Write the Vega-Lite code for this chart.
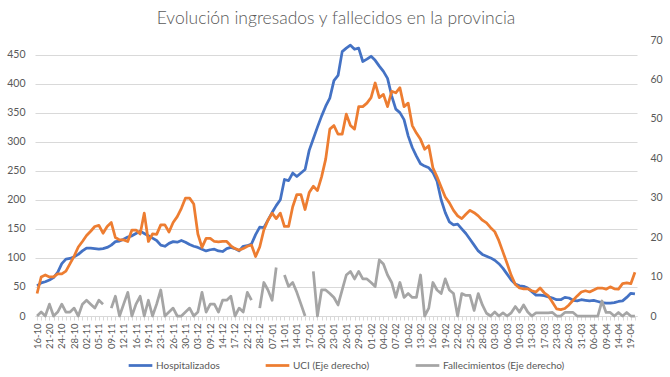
{
"$schema": "https://vega.github.io/schema/vega-lite/v6.json",
"width": 602, "height": 276,
"autosize": "none",
"padding": {"left": 35, "top": 40, "right": 33, "bottom": 61},
"background": "white",
"title": {"text": "Evolución ingresados y fallecidos en la provincia", "font": "Lato", "fontSize": 17.5, "fontWeight": 300, "color": "#595959", "offset": 8, "anchor": "middle"},
"data": {"values": [
{"fecha":"16-10","hosp":52,"uci":5.7,"fall":0},
{"fecha":"19-10","hosp":57,"uci":9.9,"fall":1},
{"fecha":"20-10","hosp":59,"uci":10.4,"fall":0},
{"fecha":"21-20","hosp":62,"uci":9.9,"fall":3},
{"fecha":"22-10","hosp":66,"uci":9.9,"fall":0},
{"fecha":"23-10","hosp":75,"uci":10.7,"fall":1},
{"fecha":"24-10","hosp":90,"uci":10.7,"fall":3},
{"fecha":"26-10","hosp":98,"uci":11.4,"fall":1},
{"fecha":"27-10","hosp":99,"uci":13.3,"fall":1},
{"fecha":"28-10","hosp":102,"uci":15.2,"fall":2},
{"fecha":"30-10","hosp":106,"uci":17.5,"fall":0},
{"fecha":"31-10","hosp":112,"uci":18.9,"fall":3},
{"fecha":"02-11","hosp":117,"uci":20.4,"fall":4},
{"fecha":"03-11","hosp":117,"uci":21.5,"fall":3},
{"fecha":"04-11","hosp":116,"uci":22.7,"fall":2},
{"fecha":"05-11","hosp":115,"uci":23,"fall":4},
{"fecha":"06-11","hosp":116,"uci":21,"fall":3},
{"fecha":"07-11","hosp":118,"uci":22.7,"fall":null},
{"fecha":"09-11","hosp":122,"uci":23.7,"fall":2},
{"fecha":"10-11","hosp":128,"uci":19.9,"fall":5},
{"fecha":"11-11","hosp":129,"uci":19.3,"fall":0},
{"fecha":"12-11","hosp":132,"uci":19.3,"fall":3},
{"fecha":"13-11","hosp":136,"uci":18.9,"fall":6},
{"fecha":"14-11","hosp":138,"uci":21.8,"fall":0},
{"fecha":"16-11","hosp":142,"uci":21.8,"fall":3},
{"fecha":"17-11","hosp":146,"uci":20.8,"fall":5},
{"fecha":"18-11","hosp":142,"uci":26.1,"fall":0},
{"fecha":"19-11","hosp":138,"uci":18.9,"fall":4},
{"fecha":"20-11","hosp":134,"uci":20.8,"fall":0},
{"fecha":"21-11","hosp":130,"uci":20.7,"fall":3},
{"fecha":"23-11","hosp":122,"uci":23.1,"fall":6.6},
{"fecha":"24-11","hosp":120,"uci":23.1,"fall":0},
{"fecha":"25-11","hosp":125,"uci":21.3,"fall":1},
{"fecha":"26-11","hosp":128,"uci":23.7,"fall":2},
{"fecha":"27-11","hosp":127,"uci":25.2,"fall":0},
{"fecha":"28-11","hosp":130,"uci":27.3,"fall":0},
{"fecha":"30-11","hosp":127,"uci":29.9,"fall":1},
{"fecha":"01-12","hosp":123,"uci":29.9,"fall":2},
{"fecha":"02-12","hosp":120,"uci":28.4,"fall":0},
{"fecha":"03-12","hosp":118,"uci":20.8,"fall":1},
{"fecha":"04-12","hosp":115,"uci":17.4,"fall":6},
{"fecha":"05-12","hosp":112,"uci":19.7,"fall":1},
{"fecha":"09-12","hosp":114,"uci":19.7,"fall":3},
{"fecha":"10-12","hosp":115,"uci":18.9,"fall":3},
{"fecha":"11-12","hosp":112,"uci":18.8,"fall":1},
{"fecha":"14-12","hosp":111,"uci":18.9,"fall":4},
{"fecha":"15-12","hosp":116,"uci":18.9,"fall":4},
{"fecha":"16-12","hosp":118,"uci":17.8,"fall":5},
{"fecha":"17-12","hosp":116,"uci":17.1,"fall":0},
{"fecha":"18-12","hosp":112,"uci":16.7,"fall":2},
{"fecha":"21-12","hosp":120,"uci":17.1,"fall":1},
{"fecha":"22-12","hosp":121,"uci":17.7,"fall":6},
{"fecha":"23-12","hosp":124,"uci":18,"fall":4},
{"fecha":"24-12","hosp":140,"uci":15.1,"fall":null},
{"fecha":"28-12","hosp":153,"uci":17.5,"fall":2},
{"fecha":"29-12","hosp":152,"uci":21.8,"fall":8.5},
{"fecha":"30-12","hosp":165,"uci":24.3,"fall":6.6},
{"fecha":"07-01","hosp":178,"uci":26.1,"fall":4},
{"fecha":"08-01","hosp":190,"uci":24.7,"fall":12.3},
{"fecha":"09-01","hosp":200,"uci":26.1,"fall":null},
{"fecha":"11-01","hosp":235,"uci":22.7,"fall":10.4},
{"fecha":"12-01","hosp":233,"uci":22.7,"fall":7.5},
{"fecha":"13-01","hosp":246,"uci":27.7,"fall":8.5},
{"fecha":"14-01","hosp":240,"uci":30.8,"fall":6},
{"fecha":"15-01","hosp":246,"uci":30.8,"fall":3},
{"fecha":"16-01","hosp":252,"uci":27,"fall":0},
{"fecha":"17-01","hosp":285,"uci":31.3,"fall":null},
{"fecha":"18-01","hosp":305,"uci":32.9,"fall":11.3},
{"fecha":"19-01","hosp":325,"uci":31.8,"fall":0},
{"fecha":"20-01","hosp":344,"uci":35.3,"fall":6.6},
{"fecha":"21-01","hosp":361,"uci":39.8,"fall":6.6},
{"fecha":"22-01","hosp":375,"uci":47.4,"fall":5.7},
{"fecha":"23-01","hosp":405,"uci":48.3,"fall":4.7},
{"fecha":"24-01","hosp":414,"uci":46.1,"fall":2.8},
{"fecha":"25-01","hosp":455,"uci":46.1,"fall":6.6},
{"fecha":"26-01","hosp":461,"uci":51.2,"fall":10.4},
{"fecha":"27-01","hosp":466,"uci":48.3,"fall":11.3},
{"fecha":"28-01","hosp":459,"uci":47.4,"fall":9.4},
{"fecha":"29-01","hosp":461,"uci":53.1,"fall":11.3},
{"fecha":"30-01","hosp":438,"uci":53.1,"fall":9.4},
{"fecha":"31-01","hosp":442,"uci":54,"fall":9.4},
{"fecha":"01-02","hosp":447,"uci":55.4,"fall":8.5},
{"fecha":"02-02","hosp":440,"uci":59.1,"fall":7.5},
{"fecha":"03-02","hosp":430,"uci":55.4,"fall":14.2},
{"fecha":"04-02","hosp":421,"uci":56.2,"fall":13.2},
{"fecha":"05-02","hosp":409,"uci":53.1,"fall":10.4},
{"fecha":"06-02","hosp":379,"uci":57,"fall":8.5},
{"fecha":"07-02","hosp":356,"uci":56.6,"fall":4.7},
{"fecha":"08-02","hosp":350,"uci":57.9,"fall":8.5},
{"fecha":"09-02","hosp":338,"uci":53.1,"fall":4.7},
{"fecha":"10-02","hosp":310,"uci":54,"fall":5.7},
{"fecha":"11-02","hosp":290,"uci":48.3,"fall":4.7},
{"fecha":"12-02","hosp":275,"uci":46.4,"fall":4.7},
{"fecha":"13-02","hosp":262,"uci":44.8,"fall":10.4},
{"fecha":"14-02","hosp":258,"uci":42.3,"fall":0},
{"fecha":"15-02","hosp":255,"uci":43.2,"fall":2},
{"fecha":"16-02","hosp":247,"uci":37.6,"fall":8.5},
{"fecha":"17-02","hosp":232,"uci":35.3,"fall":6.6},
{"fecha":"18-02","hosp":200,"uci":32.7,"fall":5.7},
{"fecha":"19-02","hosp":178,"uci":30.2,"fall":9.4},
{"fecha":"20-02","hosp":162,"uci":28.7,"fall":6.6},
{"fecha":"21-02","hosp":157,"uci":26.8,"fall":5.7},
{"fecha":"22-02","hosp":158,"uci":25.4,"fall":0},
{"fecha":"23-02","hosp":150,"uci":24.7,"fall":5.7},
{"fecha":"24-02","hosp":142,"uci":25.8,"fall":5.2},
{"fecha":"25-02","hosp":132,"uci":26.8,"fall":5.2},
{"fecha":"26-02","hosp":122,"uci":26.2,"fall":1.4},
{"fecha":"27-02","hosp":112,"uci":25.4,"fall":5.7},
{"fecha":"28-02","hosp":106,"uci":24.3,"fall":2.8},
{"fecha":"01-03","hosp":103,"uci":23.6,"fall":0.7},
{"fecha":"02-03","hosp":100,"uci":22.4,"fall":0},
{"fecha":"03-03","hosp":96,"uci":21.4,"fall":1},
{"fecha":"04-03","hosp":90,"uci":19.1,"fall":0},
{"fecha":"05-03","hosp":82,"uci":16.2,"fall":0.8},
{"fecha":"06-03","hosp":72,"uci":13.3,"fall":0},
{"fecha":"08-03","hosp":62,"uci":10.3,"fall":0.8},
{"fecha":"09-03","hosp":55,"uci":8,"fall":2.4},
{"fecha":"10-03","hosp":52,"uci":7.1,"fall":1},
{"fecha":"11-03","hosp":51,"uci":6.9,"fall":2.8},
{"fecha":"12-03","hosp":48,"uci":6.9,"fall":1},
{"fecha":"13-03","hosp":42,"uci":6.4,"fall":0},
{"fecha":"15-03","hosp":36,"uci":6.1,"fall":0.8},
{"fecha":"16-03","hosp":36,"uci":7.1,"fall":0.8},
{"fecha":"17-03","hosp":35,"uci":5.9,"fall":0.8},
{"fecha":"18-03","hosp":33,"uci":5.1,"fall":0.8},
{"fecha":"22-03","hosp":31,"uci":3.5,"fall":0.9},
{"fecha":"23-03","hosp":28,"uci":1.8,"fall":0},
{"fecha":"24-03","hosp":28,"uci":1.6,"fall":0},
{"fecha":"25-03","hosp":32,"uci":1.9,"fall":0.9},
{"fecha":"26-03","hosp":31,"uci":2.8,"fall":0.9},
{"fecha":"29-03","hosp":27,"uci":4,"fall":0.9},
{"fecha":"30-03","hosp":26,"uci":5.1,"fall":0},
{"fecha":"31-03","hosp":28,"uci":6.1,"fall":0},
{"fecha":"01-04","hosp":27,"uci":6.4,"fall":0},
{"fecha":"05-04","hosp":26,"uci":6.1,"fall":0},
{"fecha":"06-04","hosp":27,"uci":6.6,"fall":0},
{"fecha":"07-04","hosp":25,"uci":7.1,"fall":0},
{"fecha":"08-04","hosp":23,"uci":7.1,"fall":3.8},
{"fecha":"09-04","hosp":22,"uci":6.8,"fall":0.9},
{"fecha":"12-04","hosp":22,"uci":7.4,"fall":0.9},
{"fecha":"13-04","hosp":23,"uci":6.9,"fall":0},
{"fecha":"14-04","hosp":25,"uci":6.8,"fall":0.9},
{"fecha":"15-04","hosp":26,"uci":8.2,"fall":0},
{"fecha":"16-04","hosp":32,"uci":8.4,"fall":0.9},
{"fecha":"19-04","hosp":39,"uci":8.2,"fall":0},
{"fecha":"20-04","hosp":38,"uci":11.1,"fall":0}
]},
"encoding": {
  "x": {"field": "fecha", "type": "ordinal", "sort": null,
        "scale": {"type": "point", "padding": 0.5},
        "axis": {"title": null, "labelAngle": -90, "labelFontSize": 9.5, "labelColor": "#595959", "labelFont": "Lato",
                 "labelOverlap": false, "labelPadding": 3, "domainColor": "#D9D9D9", "tickColor": "#D9D9D9", "tickSize": 4, "grid": false,
                 "labelExpr": "indexof(['16-10','21-20','24-10','28-10','02-11','05-11','09-11','12-11','16-11','19-11','23-11','26-11','30-11','03-12','09-12','14-12','17-12','22-12','28-12','07-01','11-01','14-01','17-01','20-01','23-01','26-01','29-01','01-02','04-02','07-02','10-02','13-02','16-02','19-02','22-02','25-02','28-02','03-03','06-03','10-03','13-03','17-03','23-03','26-03','31-03','06-04','09-04','14-04','19-04'], datum.value) >= 0 ? datum.value : ''"}}
},
"layer": [
  {"mark": {"type": "line", "strokeWidth": 2.75, "strokeJoin": "round"},
   "encoding": {
     "y": {"field": "hosp", "type": "quantitative", "scale": {"domain": [0, 475], "nice": false},
           "axis": {"title": null, "orient": "left", "values": [0,50,100,150,200,250,300,350,400,450], "grid": true, "gridColor": "#D9D9D9", "domain": false, "ticks": false, "labelFontSize": 10.5, "labelColor": "#595959", "labelFont": "Lato", "labelPadding": 10}},
     "color": {"datum": "Hospitalizados", "type": "nominal",
               "scale": {"domain": ["Hospitalizados", "UCI (Eje derecho)", "Fallecimientos (Eje derecho)"], "range": ["#4472C4", "#ED7D31", "#A5A5A5"]},
               "legend": {"title": null}}
   }},
  {"mark": {"type": "line", "strokeWidth": 2.75, "strokeJoin": "round"},
   "encoding": {
     "y": {"field": "uci", "type": "quantitative", "scale": {"domain": [0, 70], "nice": false},
           "axis": {"title": null, "orient": "right", "values": [0,10,20,30,40,50,60,70], "grid": false, "domain": false, "ticks": false, "labelFontSize": 10.5, "labelColor": "#595959", "labelFont": "Lato", "labelPadding": 13}},
     "color": {"datum": "UCI (Eje derecho)", "type": "nominal"}
   }},
  {"mark": {"type": "line", "strokeWidth": 2.75, "strokeJoin": "round", "invalid": "break-paths-show-domains"},
   "encoding": {
     "y": {"field": "fall", "type": "quantitative", "scale": {"domain": [0, 70], "nice": false}, "axis": null},
     "color": {"datum": "Fallecimientos (Eje derecho)", "type": "nominal"}
   }}
],
"resolve": {"scale": {"y": "independent"}},
"config": {
  "view": {"stroke": null},
  "font": "Lato",
  "legend": {"orient": "none", "legendX": 92, "legendY": 312, "direction": "horizontal", "symbolType": "stroke", "symbolSize": 560, "symbolStrokeWidth": 2.75, "labelFontSize": 10, "labelColor": "#595959", "labelFont": "Lato", "columnPadding": 40, "labelOffset": 2}
}
}
